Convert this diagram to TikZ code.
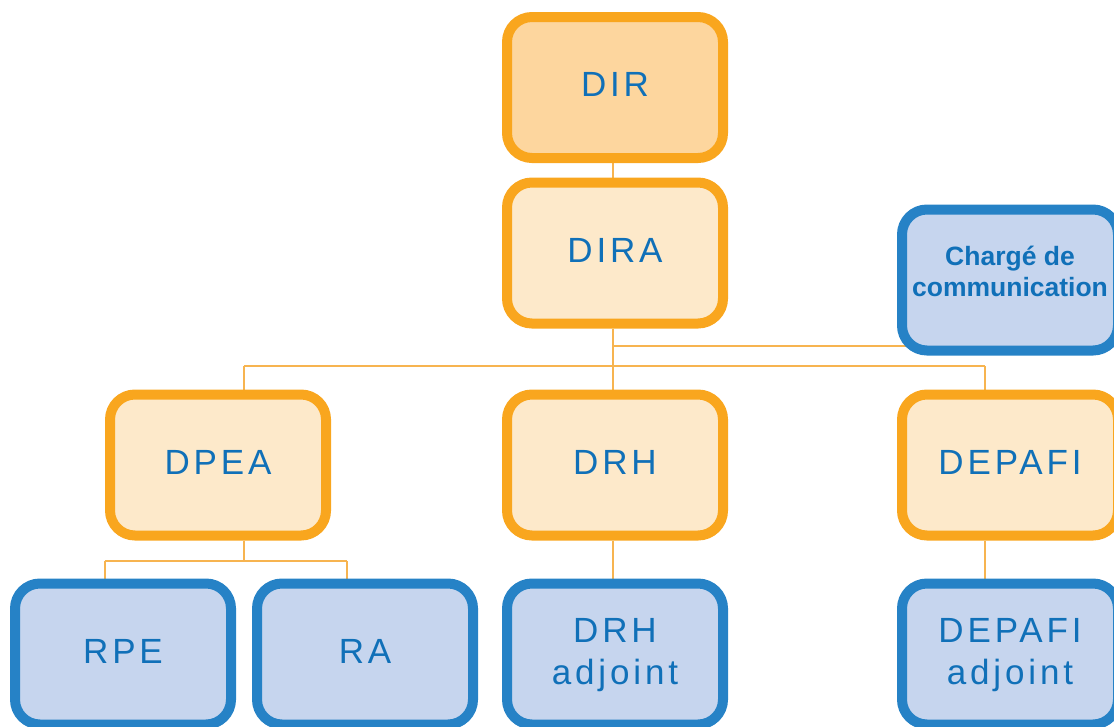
\documentclass[tikz,border=0pt]{standalone}
\usepackage{fontspec}
\setmainfont{Liberation Sans}
\newfontfamily\boxfont[LetterSpace=11]{Liberation Sans}
\usetikzlibrary{backgrounds,calc}

\definecolor{orangeline}{RGB}{249,166,30}
\definecolor{topfill}{RGB}{253,214,158}
\definecolor{lightfill}{RGB}{253,233,202}
\definecolor{blueline}{RGB}{38,130,198}
\definecolor{bluefill}{RGB}{198,213,238}
\definecolor{labelblue}{RGB}{16,112,184}
\definecolor{linkcolor}{RGB}{247,180,80}

\tikzset{
  unit/.style={rectangle, rounded corners=25pt, line width=10pt,
    minimum width=216pt, minimum height=141pt, inner sep=0pt,
    align=center, text=labelblue, text depth=6pt,
    font=\boxfont\fontsize{35}{42}\selectfont},
  headunit/.style={unit, draw=orangeline, fill=lightfill},
  topunit/.style={unit, draw=orangeline, fill=topfill},
  staffunit/.style={unit, draw=blueline, fill=bluefill},
  link/.style={draw=linkcolor, line width=1.5pt}
}

\begin{document}
\begin{tikzpicture}[x=1pt, y=-1pt]
\useasboundingbox (0,0) rectangle (1114,726);

% hierarchy boxes
\node[topunit]   (dir)    at (615,87.5) {DIR};
\node[headunit]  (dira)   at (615,253)  {DIRA};
\node[staffunit, text depth=17pt, font=\bfseries\fontsize{26.5}{31}\selectfont] (comm) at (1010,280) {Chargé de\\communication};
\node[headunit]  (dpea)   at (218,465)  {DPEA};
\node[headunit]  (drh)    at (615,465)  {DRH};
\node[headunit]  (depafi) at (1010,465) {DEPAFI};
\node[staffunit] (rpe)    at (123,654)  {RPE};
\node[staffunit] (ra)     at (365,654)  {RA};
\node[staffunit] (drha)   at (615,654)  {DRH\\adjoint};
\node[staffunit] (depafia) at (1010,654) {DEPAFI\\adjoint};

% junction points of the connectors
\coordinate (busL)  at (244,366);
\coordinate (busR)  at (985,366);
\coordinate (commj) at (613,346);
\coordinate (subL)  at (105,561);
\coordinate (subR)  at (347,561);

\begin{scope}[on background layer]
  \draw[link] (dir.south -| commj) -- (dira.north -| commj);
  \draw[link] (dira.south -| commj) -- (drh.north -| commj);
  \draw[link] (commj) -- (comm.west |- commj) -- ++(12,0);
  \draw[link] (busL) -- (busR);
  \draw[link] (busL) -- (busL |- dpea.north);
  \draw[link] (busR) -- (busR |- depafi.north);
  \draw[link] (dpea.south -| busL) -- (busL |- subL);
  \draw[link] (subL) -- (subR);
  \draw[link] (subL) -- (subL |- rpe.north);
  \draw[link] (subR) -- (subR |- ra.north);
  \draw[link] (drh.south -| commj) -- (drha.north -| commj);
  \draw[link] (depafi.south -| busR) -- (depafia.north -| busR);
\end{scope}
\end{tikzpicture}
\end{document}
